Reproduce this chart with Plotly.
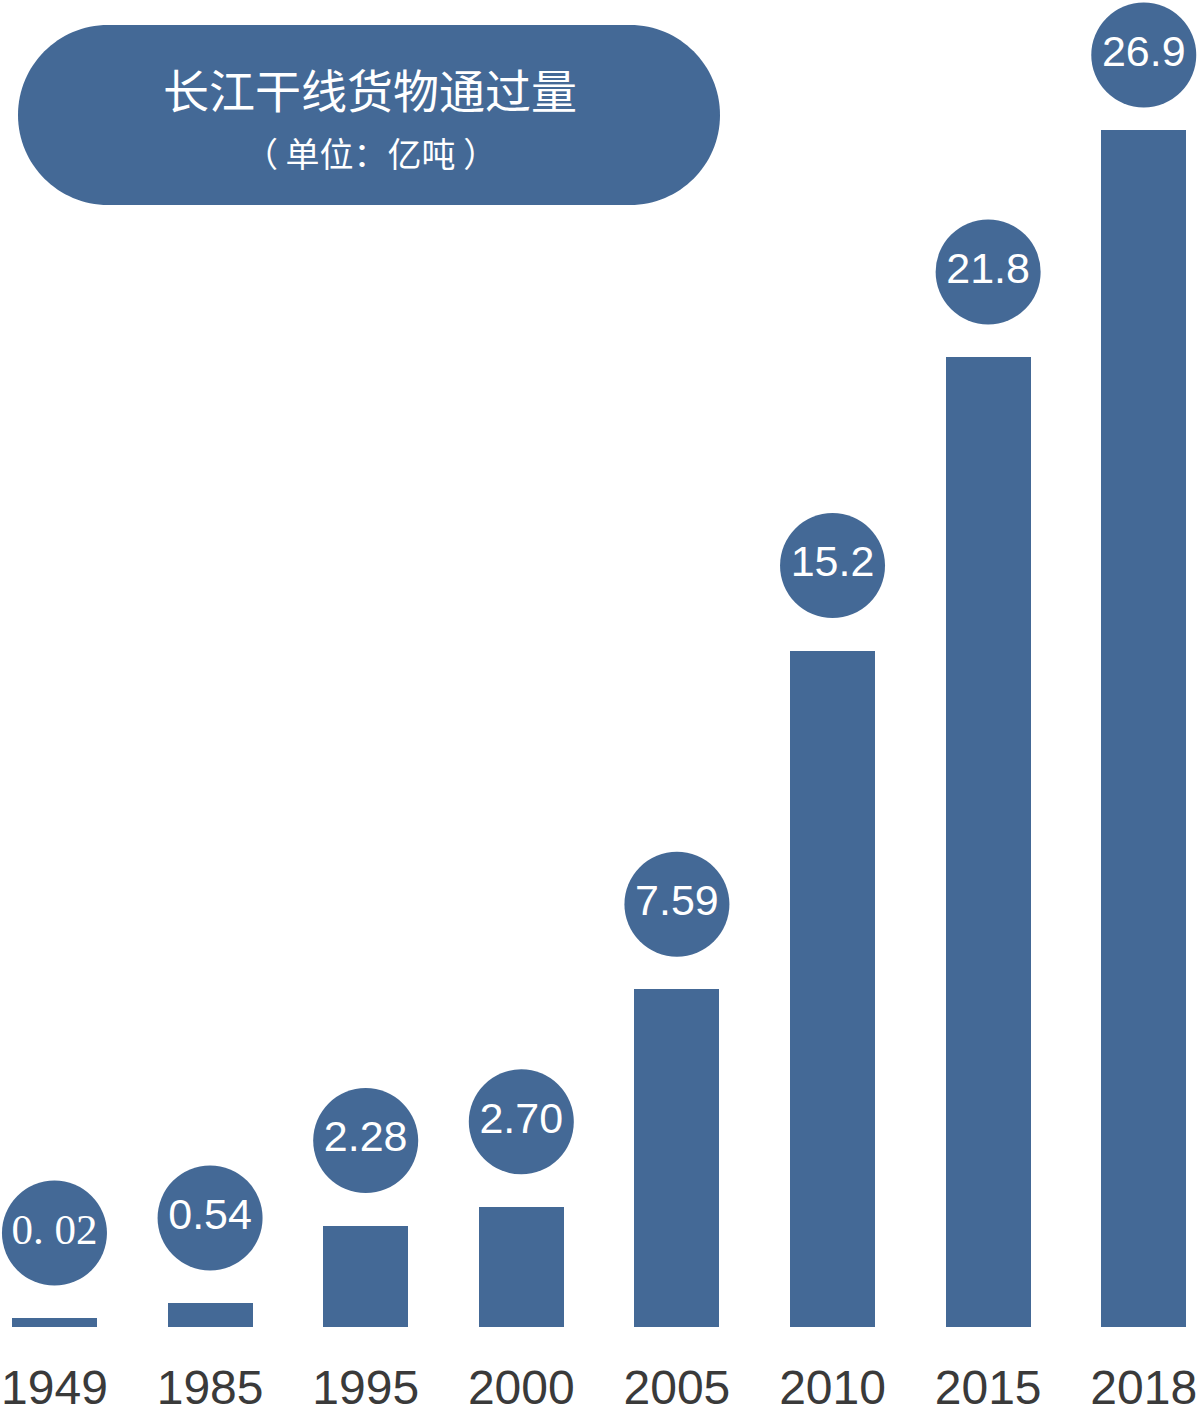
import plotly.graph_objects as go

years = ["1949", "1985", "1995", "2000", "2005", "2010", "2015", "2018"]
values = [0.02, 0.54, 2.28, 2.70, 7.59, 15.2, 21.8, 26.9]
labels = ["0. 02", "0.54", "2.28", "2.70", "7.59", "15.2", "21.8", "26.9"]
title_text = "长江干线货物通过量"
unit_text = "（ 单位：亿吨 ）"

W, H = 1199, 1417
BASE_PX = 1327
PX_PER_UNIT = 44.5
Y_MAX = BASE_PX / PX_PER_UNIT
BLUE = "#446996"
MIN_BAR = 0.2                      # smallest visible bar height (units)
CIRCLE_OFFSET = 85 / PX_PER_UNIT   # circle centre above bar top (units)
CIRCLE_MAX = (BASE_PX - 55) / PX_PER_UNIT  # keep circles inside the frame

bar_heights = [max(v, MIN_BAR) for v in values]
circle_y = [min(h + CIRCLE_OFFSET, CIRCLE_MAX) for h in bar_heights]
label_fonts = ["Liberation Serif" if l.startswith("0. ") else "Liberation Sans" for l in labels]

fig = go.Figure()
fig.add_trace(go.Bar(
    x=years, y=bar_heights, width=0.546,
    marker=dict(color=BLUE, line=dict(width=0)),
    hoverinfo="skip",
))
fig.add_trace(go.Scatter(
    x=years, y=circle_y, mode="markers+text",
    marker=dict(size=105, color=BLUE, line=dict(width=0)),
    text=labels, textposition="middle center",
    textfont=dict(color="white", size=43, family=label_fonts),
    cliponaxis=False, hoverinfo="skip",
))

# rounded title box (pixel geometry converted to paper coords)
def P(px, py):
    return f"{px / W:.5f},{1 - py / BASE_PX:.5f}"

x0, x1, y0, y1 = 18, 720, 25, 205
r = (y1 - y0) / 2
k = 0.5523 * r
path = (
    f"M {P(x0 + r, y0)} L {P(x1 - r, y0)} "
    f"C {P(x1 - r + k, y0)} {P(x1, y0 + r - k)} {P(x1, y0 + r)} "
    f"C {P(x1, y0 + r + k)} {P(x1 - r + k, y1)} {P(x1 - r, y1)} "
    f"L {P(x0 + r, y1)} "
    f"C {P(x0 + r - k, y1)} {P(x0, y0 + r + k)} {P(x0, y0 + r)} "
    f"C {P(x0, y0 + r - k)} {P(x0 + r - k, y0)} {P(x0 + r, y0)} Z"
)

fig.update_layout(
    width=W, height=H,
    margin=dict(l=0, r=0, t=0, b=H - BASE_PX, autoexpand=False),
    paper_bgcolor="white", plot_bgcolor="white",
    showlegend=False,
    bargap=0,
    xaxis=dict(
        type="category", range=[-0.35, 7.355], automargin=False,
        showgrid=False, zeroline=False, showline=False, ticks="",
        tickfont=dict(family="Liberation Sans", size=48, color="#3a3a3a"),
        ticklabelstandoff=28,
    ),
    yaxis=dict(
        range=[0, Y_MAX], automargin=False,
        visible=False, showgrid=False, zeroline=False,
    ),
    shapes=[dict(
        type="path", xref="paper", yref="paper", path=path,
        fillcolor=BLUE, line=dict(width=0), layer="above",
    )],
    annotations=[
        dict(xref="paper", yref="paper", x=370 / W, y=1 - 88 / BASE_PX,
             text=title_text, showarrow=False, xanchor="center", yanchor="middle",
             font=dict(family="Noto Sans CJK SC", size=46, color="white")),
        dict(xref="paper", yref="paper", x=370 / W, y=1 - 153 / BASE_PX,
             text=unit_text, showarrow=False, xanchor="center", yanchor="middle",
             font=dict(family="Noto Sans CJK SC", size=34, color="white")),
    ],
)

fig.write_html(
    "out.html",
    config={"displayModeBar": False},
    post_script="document.body.style.margin='0';document.body.style.overflow='hidden';",
)
